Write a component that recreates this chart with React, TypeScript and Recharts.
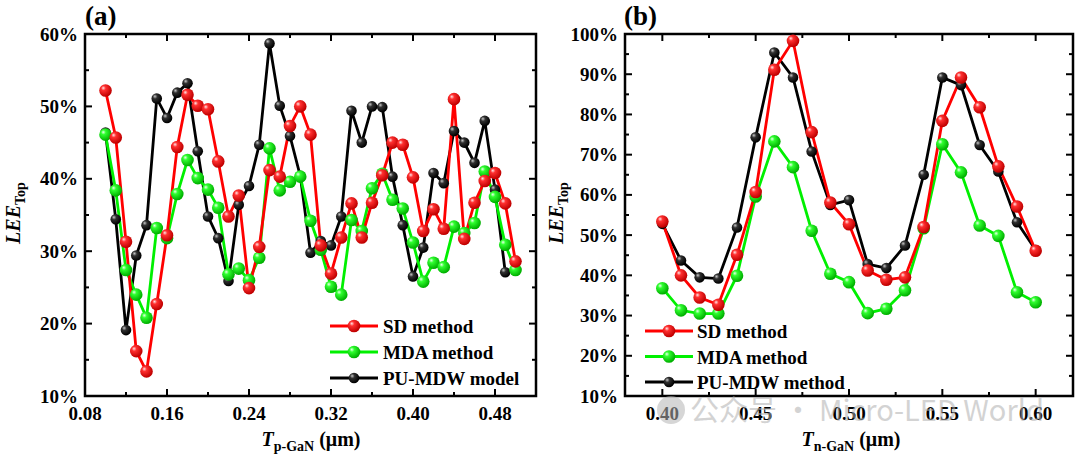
import React from 'react';
import { LineChart, Line, XAxis, YAxis, ReferenceArea, Legend } from 'recharts';

const FONT = '"Liberation Serif", "Times New Roman", serif';

// ---------- Panel (a) data ----------
const xP = [0.10, 0.11, 0.12, 0.13, 0.14, 0.15, 0.16, 0.17, 0.18, 0.19, 0.20, 0.21, 0.22, 0.23, 0.24, 0.25, 0.26, 0.27, 0.28, 0.29, 0.30, 0.31, 0.32, 0.33, 0.34, 0.35, 0.36, 0.37, 0.38, 0.39, 0.40, 0.41, 0.42, 0.43, 0.44, 0.45, 0.46, 0.47, 0.48, 0.49, 0.50];
const sdA = [52.2, 45.7, 31.3, 16.2, 13.4, 22.7, 32.2, 44.4, 51.6, 50.1, 49.6, 42.4, 34.8, 37.7, 24.9, 30.6, 41.2, 40.3, 47.3, 50.0, 46.1, 30.8, 26.9, 31.9, 36.6, 31.9, 36.7, 40.5, 45.0, 44.7, 40.2, 32.8, 35.8, 33.1, 51.0, 31.7, 36.7, 39.7, 40.8, 36.6, 28.6];
const mdaA = [46.1, 38.4, 27.4, 24.0, 20.8, 33.2, 31.8, 37.9, 42.6, 40.1, 38.5, 36.0, 26.8, 27.6, 26.0, 29.1, 44.2, 38.4, 39.6, 40.3, 34.2, 30.2, 25.1, 24.0, 34.3, 32.8, 38.7, 40.7, 37.1, 35.9, 31.2, 25.8, 28.4, 27.8, 33.4, 32.5, 33.9, 41.0, 37.5, 30.9, 27.4];
const puA = [46.4, 34.4, 19.1, 29.4, 33.6, 51.1, 48.4, 51.9, 53.2, 43.8, 34.8, 31.8, 25.9, 36.4, 39.0, 44.7, 58.7, 50.1, 45.9, 40.4, 29.8, 31.4, 30.8, 34.8, 49.4, 45.0, 50.0, 49.9, 40.3, 33.6, 26.5, 30.5, 40.8, 39.4, 46.6, 45.0, 42.2, 48.0, 38.5, 27.1, null];
const xDomainA = [0.08, 0.52];
const xTicksA = [0.08, 0.12, 0.16, 0.20, 0.24, 0.28, 0.32, 0.36, 0.40, 0.44, 0.48, 0.52];
const xMajorA = [0.08, 0.16, 0.24, 0.32, 0.40, 0.48];
const yDomainA = [10, 60];
const yTicksA = [10, 15, 20, 25, 30, 35, 40, 45, 50, 55, 60];
const yMajorA = [10, 20, 30, 40, 50, 60];
const legendA = ['SD method', 'MDA method', 'PU-MDW model'];

// ---------- Panel (b) data ----------
const xN = [0.40, 0.41, 0.42, 0.43, 0.44, 0.45, 0.46, 0.47, 0.48, 0.49, 0.50, 0.51, 0.52, 0.53, 0.54, 0.55, 0.56, 0.57, 0.58, 0.59, 0.60];
const sdB = [53.4, 40.0, 34.5, 32.7, 45.1, 60.7, 91.1, 98.3, 75.6, 58.1, 52.7, 41.2, 38.9, 39.5, 52.0, 78.4, 89.2, 81.8, 67.1, 57.1, 46.1];
const mdaB = [36.8, 31.3, 30.5, 30.5, 39.9, 59.6, 73.3, 66.9, 51.1, 40.4, 38.3, 30.6, 31.7, 36.3, 51.7, 72.6, 65.6, 52.4, 49.8, 35.8, 33.3];
const puB = [52.8, 43.7, 39.5, 39.2, 51.9, 74.3, 95.4, 89.2, 70.8, 57.5, 58.7, 42.8, 41.8, 47.4, 65.0, 89.2, 87.3, 72.4, 65.8, 53.2, 46.3];
const xDomainB = [0.38, 0.62];
const xTicksB = [0.40, 0.425, 0.45, 0.475, 0.50, 0.525, 0.55, 0.575, 0.60];
const xMajorB = [0.40, 0.45, 0.50, 0.55, 0.60];
const yDomainB = [10, 100];
const yTicksB = [10, 15, 20, 25, 30, 35, 40, 45, 50, 55, 60, 65, 70, 75, 80, 85, 90, 95, 100];
const yMajorB = [10, 20, 30, 40, 50, 60, 70, 80, 90, 100];
const legendB = ['SD method', 'MDA method', 'PU-MDW method'];

const rowsA = xP.map((x, i) => ({ x, sd: sdA[i], mda: mdaA[i], pu: puA[i] }));
const rowsB = xN.map((x, i) => ({ x, sd: sdB[i], mda: mdaB[i], pu: puB[i] }));

const isMajor = (list: number[], v: number) => list.some((m) => Math.abs(m - v) < 1e-6);

type Geo = { left: number; right: number; top: number; bottom: number };

const makeXTick = (majors: number[], g: Geo) => (props: any) => {
  const { x, payload } = props;
  const v = payload.value;
  const major = isMajor(majors, v);
  const len = major ? 7 : 4;
  return (
    <g>
      <line x1={x} x2={x} y1={g.bottom} y2={g.bottom - len} stroke="#000" strokeWidth={2} />
      <line x1={x} x2={x} y1={g.top} y2={g.top + len} stroke="#000" strokeWidth={2} />
      {major && (
        <text x={x} y={g.bottom + 24} textAnchor="middle" fontFamily={FONT} fontWeight="bold" fontSize={19} fill="#000">
          {v.toFixed(2)}
        </text>
      )}
    </g>
  );
};

const makeYTick = (majors: number[], g: Geo) => (props: any) => {
  const { y, payload } = props;
  const v = payload.value;
  const major = isMajor(majors, v);
  const len = major ? 7 : 4;
  return (
    <g>
      <line x1={g.left} x2={g.left + len} y1={y} y2={y} stroke="#000" strokeWidth={2} />
      <line x1={g.right} x2={g.right - len} y1={y} y2={y} stroke="#000" strokeWidth={2} />
      {major && (
        <text x={g.left - 7} y={y + 6.5} textAnchor="end" fontFamily={FONT} fontWeight="bold" fontSize={19} fill="#000">
          {`${v}%`}
        </text>
      )}
    </g>
  );
};

const makeDot = (grad: string, r: number) => (props: any) => {
  const { cx, cy, index, value } = props;
  if (cx == null || cy == null || value == null || Number.isNaN(cy)) return <g key={`e${index}`} />;
  return <circle key={`d${index}`} cx={cx} cy={cy} r={r} fill={`url(#${grad})`} />;
};

const Gradients = ({ s }: { s: string }) => (
  <defs>
    <radialGradient id={`gR${s}`} cx="38%" cy="36%" r="62%" fx="32%" fy="30%">
      <stop offset="0%" stopColor="#ffe6e6" />
      <stop offset="30%" stopColor="#ff3030" />
      <stop offset="100%" stopColor="#c00000" />
    </radialGradient>
    <radialGradient id={`gG${s}`} cx="38%" cy="36%" r="62%" fx="32%" fy="30%">
      <stop offset="0%" stopColor="#eaffea" />
      <stop offset="30%" stopColor="#30ff30" />
      <stop offset="100%" stopColor="#00b000" />
    </radialGradient>
    <radialGradient id={`gK${s}`} cx="38%" cy="36%" r="62%" fx="32%" fy="30%">
      <stop offset="0%" stopColor="#c8c8c8" />
      <stop offset="35%" stopColor="#303030" />
      <stop offset="100%" stopColor="#000000" />
    </radialGradient>
  </defs>
);

const makeLegend = (labels: string[], s: string, gap: number, textX: number) => () => {
  const items = [
    { label: labels[0], color: '#ff0000', grad: `gR${s}`, r: 6.3 },
    { label: labels[1], color: '#00f000', grad: `gG${s}`, r: 6.3 },
    { label: labels[2], color: '#000000', grad: `gK${s}`, r: 5.3 },
  ];
  return (
    <svg width={260} height={84} style={{ overflow: 'visible' }}>
      {items.map((it, i) => (
        <g key={i} transform={`translate(0, ${12 + i * gap})`}>
          <line x1={5} x2={53} y1={0} y2={0} stroke={it.color} strokeWidth={3} />
          <circle cx={29} cy={0} r={it.r} fill={`url(#${it.grad})`} />
          <text x={textX} y={7} fontFamily={FONT} fontWeight="bold" fontSize={19} fill="#000">
            {it.label}
          </text>
        </g>
      ))}
    </svg>
  );
};

type PanelProps = {
  rows: any[];
  s: string;
  geo: Geo;
  xDomain: number[];
  xTicks: number[];
  xMajor: number[];
  yDomain: number[];
  yTicks: number[];
  yMajor: number[];
  labels: string[];
  legendPos: { left: number; top: number };
  legendGap: number;
  legendTextX: number;
};

const Panel = (p: PanelProps) => (
  <LineChart
    width={540}
    height={457}
    data={p.rows}
    margin={{ top: p.geo.top, right: 540 - p.geo.right, bottom: 0, left: 0 }}
  >
    <Gradients s={p.s} />
    <XAxis
      type="number"
      dataKey="x"
      domain={p.xDomain}
      ticks={p.xTicks}
      interval={0}
      allowDataOverflow
      axisLine={false}
      tickLine={false}
      height={457 - p.geo.bottom}
      tick={makeXTick(p.xMajor, p.geo)}
    />
    <YAxis
      type="number"
      domain={p.yDomain}
      ticks={p.yTicks}
      interval={0}
      allowDataOverflow
      axisLine={false}
      tickLine={false}
      width={p.geo.left}
      tick={makeYTick(p.yMajor, p.geo)}
    />
    <ReferenceArea
      x1={p.xDomain[0]}
      x2={p.xDomain[1]}
      y1={p.yDomain[0]}
      y2={p.yDomain[1]}
      fill="none"
      fillOpacity={0}
      stroke="#000"
      strokeWidth={2.5}
      ifOverflow="visible"
    />
    <Line type="linear" dataKey="pu" name={p.labels[2]} stroke="#000000" strokeWidth={2.8} dot={makeDot(`gK${p.s}`, 5.3)} activeDot={false} isAnimationActive={false} />
    <Line type="linear" dataKey="mda" name={p.labels[1]} stroke="#00f000" strokeWidth={2.8} dot={makeDot(`gG${p.s}`, 6.3)} activeDot={false} isAnimationActive={false} />
    <Line type="linear" dataKey="sd" name={p.labels[0]} stroke="#ff0000" strokeWidth={2.8} dot={makeDot(`gR${p.s}`, 6.3)} activeDot={false} isAnimationActive={false} />
    <Legend
      layout="vertical"
      align="center"
      verticalAlign="middle"
      content={makeLegend(p.labels, p.s, p.legendGap, p.legendTextX)}
      wrapperStyle={{ position: 'absolute', left: p.legendPos.left, top: p.legendPos.top, width: 260, height: 84, right: 'auto', bottom: 'auto' }}
    />
  </LineChart>
);

const Overlay = () => (
  <svg width={1080} height={457} style={{ position: 'absolute', left: 0, top: 0, pointerEvents: 'none' }}>
    <text x={85} y={25} fontFamily={FONT} fontWeight="bold" fontSize={27} fill="#000">(a)</text>
    <text x={624} y={25} fontFamily={FONT} fontWeight="bold" fontSize={27} fill="#000">(b)</text>

    <text x={311} y={446} textAnchor="middle" fontFamily={FONT} fontWeight="bold" fontSize={20} fill="#000">
      <tspan fontStyle="italic">T</tspan>
      <tspan fontSize={14} dy={5}>p-GaN</tspan>
      <tspan dy={-5}> (μm)</tspan>
    </text>
    <text x={851} y={446} textAnchor="middle" fontFamily={FONT} fontWeight="bold" fontSize={20} fill="#000">
      <tspan fontStyle="italic">T</tspan>
      <tspan fontSize={14} dy={5}>n-GaN</tspan>
      <tspan dy={-5}> (μm)</tspan>
    </text>

    <text x={20} y={213} transform="rotate(-90 20 213)" textAnchor="middle" fontFamily={FONT} fontWeight="bold" fontSize={20} fill="#000">
      <tspan fontStyle="italic">LEE</tspan>
      <tspan fontSize={14} dy={5}>Top</tspan>
    </text>
    <text x={563} y={213} transform="rotate(-90 563 213)" textAnchor="middle" fontFamily={FONT} fontWeight="bold" fontSize={20} fill="#000">
      <tspan fontStyle="italic">LEE</tspan>
      <tspan fontSize={14} dy={5}>Top</tspan>
    </text>

    <g opacity={0.55}>
      <circle cx={671} cy={410} r={14} fill="#b5b5b5" />
      <text x={690} y={421} fontFamily='"Noto Sans CJK SC", "Noto Sans", sans-serif' fontSize={29} fill="#b0b0b0">
        公众号 · Micro-LED World
      </text>
    </g>
  </svg>
);

export default function App() {
  return (
    <div style={{ position: 'absolute', left: 0, top: 0, width: 1080, height: 457, background: '#fff', overflow: 'hidden' }}>
      <div style={{ position: 'absolute', left: 0, top: 0 }}>
        <Panel
          rows={rowsA}
          s="a"
          geo={{ left: 85, right: 536, top: 34, bottom: 396 }}
          xDomain={xDomainA}
          xTicks={xTicksA}
          xMajor={xMajorA}
          yDomain={yDomainA}
          yTicks={yTicksA}
          yMajor={yMajorA}
          labels={legendA}
          legendPos={{ left: 325, top: 314 }}
          legendGap={26}
          legendTextX={58}
        />
      </div>
      <div style={{ position: 'absolute', left: 540, top: 0 }}>
        <Panel
          rows={rowsB}
          s="b"
          geo={{ left: 85, right: 533, top: 34, bottom: 396 }}
          xDomain={xDomainB}
          xTicks={xTicksB}
          xMajor={xMajorB}
          yDomain={yDomainB}
          yTicks={yTicksB}
          yMajor={yMajorB}
          labels={legendB}
          legendPos={{ left: 100, top: 319 }}
          legendGap={25.5}
          legendTextX={57}
        />
      </div>
      <Overlay />
    </div>
  );
}
